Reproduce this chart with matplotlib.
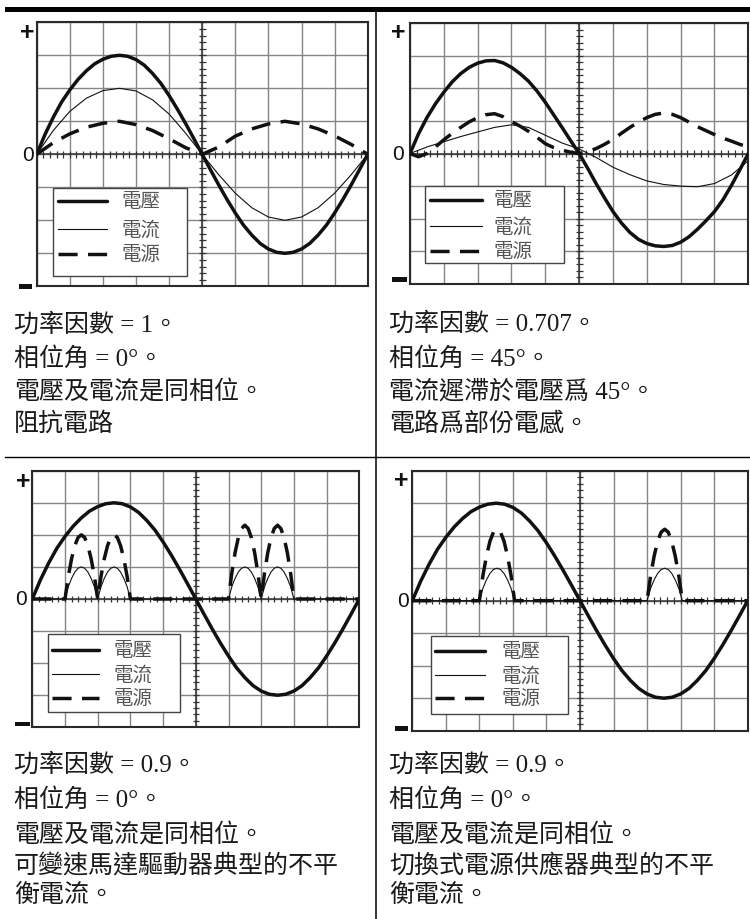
import numpy as np
import matplotlib.pyplot as plt
from matplotlib.patches import Rectangle
from matplotlib.lines import Line2D

plt.rcParams['font.family'] = ['Liberation Serif', 'Noto Sans CJK TC']

W, H = 750, 920

# sample positions in screen divisions (10 across, +-4 up/down)
x_q = np.linspace(0, 10, 41)
x_h = np.linspace(0, 10, 21)

# voltage trace shared by the resistive and non-linear screens
volt = [0, 0.6, 1.12, 1.58, 1.95, 2.27, 2.53, 2.74, 2.88, 2.97, 3.0,
        2.97, 2.87, 2.7, 2.45, 2.15, 1.78, 1.37, 0.93, 0.47, 0,
        -0.47, -0.93, -1.37, -1.78, -2.15, -2.45, -2.7, -2.87, -2.97, -3.0,
        -2.97, -2.87, -2.7, -2.45, -2.15, -1.78, -1.37, -0.93, -0.47, 0]

# resistive load
cur_r = [0, 0.72, 1.3, 1.7, 1.93, 2.0, 1.92, 1.65, 1.22, 0.64, 0,
         -0.62, -1.18, -1.62, -1.9, -2.0, -1.9, -1.62, -1.18, -0.62, 0]
pwr_r = [0, 0.35, 0.62, 0.82, 0.94, 1.0, 0.9, 0.72, 0.47, 0.2, 0,
         0.22, 0.55, 0.77, 0.92, 1.0, 0.92, 0.77, 0.56, 0.3, 0]

# partly inductive load, current lags 45 deg
volt_l = [0, 0.6, 1.1, 1.52, 1.88, 2.2, 2.45, 2.64, 2.77, 2.84, 2.85,
          2.78, 2.64, 2.45, 2.22, 1.92, 1.57, 1.18, 0.79, 0.39, 0,
          -0.45, -0.92, -1.36, -1.78, -2.13, -2.42, -2.63, -2.76, -2.83, -2.85,
          -2.82, -2.72, -2.55, -2.32, -2.06, -1.78, -1.42, -0.98, -0.5, 0]
cur_l = [0, 0.2, 0.36, 0.52, 0.66, 0.8, 0.88, 0.8, 0.56, 0.32, 0.14,
         -0.12, -0.42, -0.65, -0.84, -0.95, -1.0, -1.02, -0.92, -0.66, -0.22]
pwr_l = [0, -0.1, 0.0, 0.2, 0.42, 0.62, 0.8, 0.97, 1.1, 1.19, 1.22,
         1.13, 0.98, 0.84, 0.68, 0.5, 0.3, 0.18, 0.1, 0.04, 0,
         0.06, 0.15, 0.28, 0.43, 0.62, 0.8, 0.96, 1.1, 1.2, 1.24,
         1.2, 1.1, 0.96, 0.82, 0.7, 0.58, 0.47, 0.38, 0.28, 0.2]

# variable speed drive: two current pulses per half cycle
x_vsd = np.concatenate([[0], np.linspace(1, 3, 21), np.linspace(6, 8, 21), [10]])
cur_vsd = [0,
           0, 0.38, 0.64, 0.84, 0.96, 1.0, 0.96, 0.84, 0.64, 0.38,
           0, 0.38, 0.64, 0.84, 0.96, 1.0, 0.96, 0.84, 0.64, 0.38, 0,
           0, 0.38, 0.64, 0.84, 0.96, 1.0, 0.96, 0.84, 0.64, 0.38,
           0, 0.38, 0.64, 0.84, 0.96, 1.0, 0.96, 0.84, 0.64, 0.38, 0,
           0]
pwr_vsd = [0,
           0, 0.7, 1.25, 1.66, 1.92, 2.0, 1.92, 1.66, 1.25, 0.7,
           0, 0.7, 1.25, 1.66, 1.92, 2.0, 1.92, 1.66, 1.25, 0.7, 0,
           0, 0.8, 1.44, 1.91, 2.2, 2.3, 2.2, 1.91, 1.44, 0.8,
           0, 0.8, 1.44, 1.91, 2.2, 2.3, 2.2, 1.91, 1.44, 0.8, 0,
           0]

# switch mode supply: one pulse per half cycle
x_smps = np.concatenate([[0], np.linspace(2, 3.05, 11), np.linspace(7, 8.05, 11), [10]])
cur_smps = [0,
            0, 0.38, 0.64, 0.84, 0.96, 1.0, 0.96, 0.84, 0.64, 0.38, 0,
            0, 0.38, 0.64, 0.84, 0.96, 1.0, 0.96, 0.84, 0.64, 0.38, 0,
            0]
pwr_smps = [0,
            0, 0.77, 1.37, 1.83, 2.11, 2.2, 2.11, 1.83, 1.37, 0.77, 0,
            0, 0.77, 1.37, 1.83, 2.11, 2.2, 2.11, 1.83, 1.37, 0.77, 0,
            0]

key_labels = ['電壓', '電流', '電源']

notes = [
    ['功率因數 = 1。', '相位角 = 0°。', '電壓及電流是同相位。', '阻抗電路'],
    ['功率因數 = 0.707。', '相位角 = 45°。', '電流遲滯於電壓爲 45°。', '電路爲部份電感。'],
    ['功率因數 = 0.9。', '相位角 = 0°。', '電壓及電流是同相位。',
     '可變速馬達驅動器典型的不平', '衡電流。'],
    ['功率因數 = 0.9。', '相位角 = 0°。', '電壓及電流是同相位。',
     '切換式電源供應器典型的不平', '衡電流。'],
]

V_STYLE = dict(color='#111111', lw=2.5, solid_capstyle='round', solid_joinstyle='round')
I_STYLE = dict(color='#111111', lw=0.8)
P_STYLE = dict(color='#111111', lw=2.5, dashes=(5.5, 3.0), dash_capstyle='butt')

# screen layout in pixels, key/labels in divisions
panels = [
    dict(box=(36.7, 23.3, 367.7, 287.3), curves=(x_q, volt, x_h, cur_r, x_h, pwr_r),
         key=(0.5, -3.69, 4.53, -1.01), key_line=(0.65, 2.11), key_text=2.57, key_rows=(-1.43, -2.27, -3.03),
         plus=(-0.29, 3.7), zero=-0.26, minus=(-0.53, -0.14, -4.0),
         text_x=14, text_y=(325, 359, 392, 424)),
    dict(box=(410, 24, 748.3, 285), curves=(x_q, volt_l, x_h, cur_l, x_q, pwr_l),
         key=(0.44, -3.37, 4.54, -0.99), key_line=(0.59, 2.12), key_text=2.47, key_rows=(-1.43, -2.23, -2.98),
         plus=(-0.35, 3.73), zero=-0.36, minus=(-0.54, -0.1, -3.87),
         text_x=389, text_y=(324, 359, 392, 424)),
    dict(box=(32.3, 471.7, 359.3, 728.3), curves=(x_q, volt, x_vsd, cur_vsd, x_vsd, pwr_vsd),
         key=(0.47, -3.53, 4.52, -1.09), key_line=(0.59, 2.05), key_text=2.48, key_rows=(-1.58, -2.34, -3.08),
         plus=(-0.29, 3.69), zero=-0.35, minus=(-0.53, -0.07, -3.9),
         text_x=14, text_y=(765, 800, 835, 866, 895)),
    dict(box=(412.3, 471.7, 747.7, 731.7), curves=(x_q, volt, x_smps, cur_smps, x_smps, pwr_smps),
         key=(0.56, -3.5, 4.64, -1.09), key_line=(0.68, 2.17), key_text=2.67, key_rows=(-1.54, -2.3, -3.0),
         plus=(-0.32, 3.72), zero=-0.27, minus=(-0.52, -0.12, -3.92),
         text_x=389, text_y=(765, 800, 835, 866, 895)),
]

fig = plt.figure(figsize=(W / 100, H / 100), dpi=100)


def scope_axes(left, top, right, bottom):
    ax = fig.add_axes([left / W, 1 - bottom / H, (right - left) / W, (bottom - top) / H])
    ax.set_xlim(0, 10)
    ax.set_ylim(-4, 4)
    ax.set_xticks(np.arange(0, 11))
    ax.set_yticks(np.arange(-4, 5))
    ax.grid(True, color='#858585', lw=1.0, zorder=0)
    ax.set_axisbelow(True)
    ax.tick_params(length=0, labelbottom=False, labelleft=False)
    for s in ax.spines.values():
        s.set_color('#2a2a2a')
        s.set_linewidth(1.5)
    # centre graticule with fine ticks
    ax.axhline(0, color='#333333', lw=1.1, zorder=1)
    ax.axvline(5, color='#333333', lw=1.1, zorder=1)
    ax.vlines(np.linspace(0, 10, 51), -0.1, 0.1, color='#333333', lw=0.9, zorder=1)
    ax.hlines(np.linspace(-4, 4, 41), 4.9, 5.1, color='#333333', lw=0.9, zorder=1)
    return ax


for p, lines in zip(panels, notes):
    ax = scope_axes(*p['box'])
    xv, yv, xi, yi, xp, yp = p['curves']

    # key box
    kx0, ky0, kx1, ky1 = p['key']
    ax.add_patch(Rectangle((kx0, ky0), kx1 - kx0, ky1 - ky0, facecolor='white',
                           edgecolor='#444444', lw=1.0, zorder=2))
    for style, label, ry in zip((V_STYLE, I_STYLE, P_STYLE), key_labels, p['key_rows']):
        ax.plot(p['key_line'], [ry, ry], zorder=3, **style)
        ax.text(p['key_text'], ry, label, fontsize=14, color='#555555',
                va='center', ha='left', zorder=3)

    ax.plot(xv, yv, zorder=4, **V_STYLE)
    ax.plot(xi, yi, zorder=4, **I_STYLE)
    ax.plot(xp, yp, zorder=4, **P_STYLE)

    # polarity marks beside the screen
    ax.text(p['plus'][0], p['plus'][1], '+', family='Liberation Sans', fontsize=18,
            fontweight='bold', ha='center', va='center', clip_on=False, color='#111111')
    ax.text(p['zero'], 0, '0', family='Liberation Sans', fontsize=15,
            ha='center', va='center', clip_on=False, color='#111111')
    mx0, mx1, my = p['minus']
    ax.add_patch(Rectangle((mx0, my - 0.075), mx1 - mx0, 0.15, facecolor='#111111',
                           edgecolor='none', clip_on=False, zorder=5))

    for s, ty in zip(lines, p['text_y']):
        fig.text(p['text_x'] / W, 1 - ty / H, s, fontsize=18, color='#1a1a1a',
                 ha='left', va='center')

# frame rules of the table
fig.add_artist(Rectangle((5 / W, 1 - 13.3 / H), 1 - 5 / W, 5.3 / H, transform=fig.transFigure,
                         facecolor='black', edgecolor='none'))
fig.add_artist(Line2D([376 / W, 376 / W], [0, 1 - 13 / H], transform=fig.transFigure,
                      color='black', lw=1.1))
fig.add_artist(Line2D([5 / W, 1], [1 - 458 / H, 1 - 458 / H], transform=fig.transFigure,
                      color='black', lw=1.0))

fig.savefig('out.png', dpi=100)
